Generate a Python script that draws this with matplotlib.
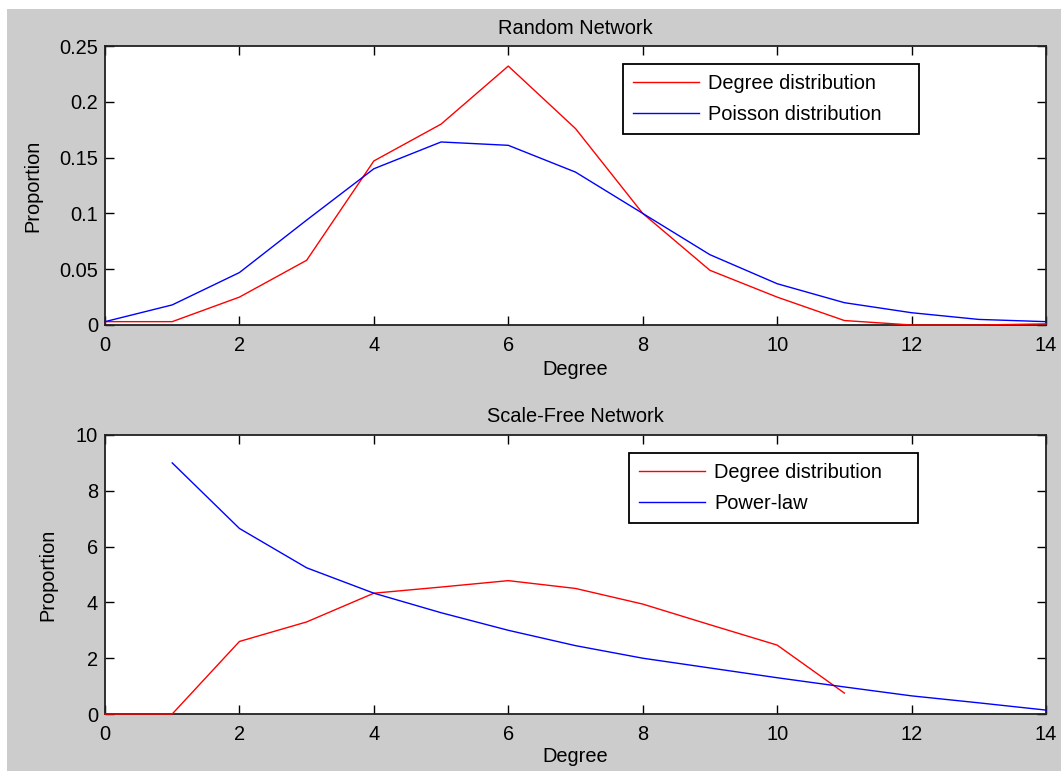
# -*- coding: utf-8 -*-
# degree distributions of a random and a scale-free network (MATLAB style figure)

import numpy as np
import matplotlib
matplotlib.use("Agg")
import matplotlib.pyplot as plt
from matplotlib.patches import Rectangle

# data
degree = list(range(15))
random_degree = [0.003, 0.003, 0.025, 0.058, 0.147, 0.180, 0.232, 0.176,
                 0.100, 0.049, 0.025, 0.004, 0.000, 0.000, 0.001]
poisson = [0.003, 0.018, 0.047, 0.094, 0.140, 0.164, 0.161, 0.137,
           0.100, 0.063, 0.037, 0.020, 0.011, 0.005, 0.003]

sf_degree_x = list(range(12))
sf_degree = [0, 0, 2.6, 3.3, 4.33, 4.55, 4.78, 4.5, 3.94, 3.2, 2.47, 0.75]
power_x = list(range(1, 15))
power_law = [9.0, 6.65, 5.24, 4.33, 3.63, 3.0, 2.45, 2.0, 1.65, 1.3,
             0.97, 0.65, 0.4, 0.14]

x_ticks = [0, 2, 4, 6, 8, 10, 12, 14]
top_yticks = [0, 0.05, 0.1, 0.15, 0.2, 0.25]
top_yticklabels = ["0", "0.05", "0.1", "0.15", "0.2", "0.25"]
bottom_yticks = [0, 2, 4, 6, 8, 10]

W, H = 1061, 771
plt.rcParams["font.family"] = ["Liberation Sans", "DejaVu Sans"]
plt.rcParams["font.size"] = 14.4

fig = plt.figure(figsize=(W / 100, H / 100), dpi=100, facecolor="white")
# gray MATLAB figure background (small white strip on top and left)
fig.patches.append(Rectangle((7 / W, 0), 1, (H - 9) / H, transform=fig.transFigure,
                             facecolor="#cccccc", edgecolor="none", zorder=-10))


def style_axes(ax, yticks, yticklabels, ylim):
    ax.set_xlim(0, 14)
    ax.set_ylim(*ylim)
    ax.set_xticks(x_ticks)
    ax.set_yticks(yticks)
    ax.set_yticklabels(yticklabels)
    ax.tick_params(direction="in", length=6.5, width=1.0, top=True, right=True,
                   colors="black", labelsize=14.4)
    ax.tick_params(axis="x", pad=8)
    ax.tick_params(axis="y", pad=5)
    for s in ax.spines.values():
        s.set_linewidth(1.3)
        s.set_color("#222222")
    ax.set_facecolor("white")


left = 105 / W
width = (1046 - 105) / W
ax1 = fig.add_axes([left, (H - 325) / H, width, (325 - 46) / H])
ax2 = fig.add_axes([left, (H - 714) / H, width, (714 - 435) / H])

line_kw = dict(lw=1.0, zorder=3, clip_on=False)

# top: random network
ax1.plot(degree, random_degree, color="#ff0000", label="Degree distribution", **line_kw)
ax1.plot(degree, poisson, color="#0000ff", label="Poisson distribution", **line_kw)
style_axes(ax1, top_yticks, top_yticklabels, (0, 0.25))
ax1.set_title("Random Network", fontsize=14.4, pad=8.6)
ax1.set_xlabel("Degree")
ax1.set_ylabel("Proportion")
ax1.xaxis.set_label_coords(0.5, (325 - 360) / 279)
ax1.yaxis.set_label_coords((42 - 105) / 941, 0.5)

# bottom: scale-free network
ax2.plot(sf_degree_x, sf_degree, color="#ff0000", label="Degree distribution", **line_kw)
ax2.plot(power_x, power_law, color="#0000ff", label="Power-law", **line_kw)
style_axes(ax2, bottom_yticks, [str(v) for v in bottom_yticks], (0, 10))
ax2.set_title("Scale-Free Network", fontsize=14.4, pad=9.4)
ax2.set_xlabel("Degree")
ax2.set_ylabel("Proportion")
ax2.xaxis.set_label_coords(0.5, (714 - 747) / 279)
ax2.yaxis.set_label_coords((57 - 105) / 941, 0.5)

legend_kw = dict(loc="upper left", mode="expand", borderaxespad=0, fancybox=False,
                 shadow=False, framealpha=1, edgecolor="black", facecolor="white",
                 handlelength=3.3, handletextpad=0.45, labelspacing=0.62,
                 borderpad=0.5, fontsize=14.4)
# legend boxes: (left, top, right) in pixels of the reference
leg_box1 = (623, 64, 919)
leg_box2 = (629, 453, 918)
leg1 = ax1.legend(bbox_to_anchor=((leg_box1[0] - 105) / 941, 1 - (leg_box1[1] - 46) / 279 - 0.3,
                                  (leg_box1[2] - leg_box1[0]) / 941, 0.3), **legend_kw)
leg2 = ax2.legend(bbox_to_anchor=((leg_box2[0] - 105) / 941, 1 - (leg_box2[1] - 435) / 279 - 0.3,
                                  (leg_box2[2] - leg_box2[0]) / 941, 0.3), **legend_kw)
for leg in (leg1, leg2):
    leg.get_frame().set_linewidth(1.3)
    leg.set_zorder(5)

fig.savefig("out.png", dpi=100, facecolor=fig.get_facecolor())
